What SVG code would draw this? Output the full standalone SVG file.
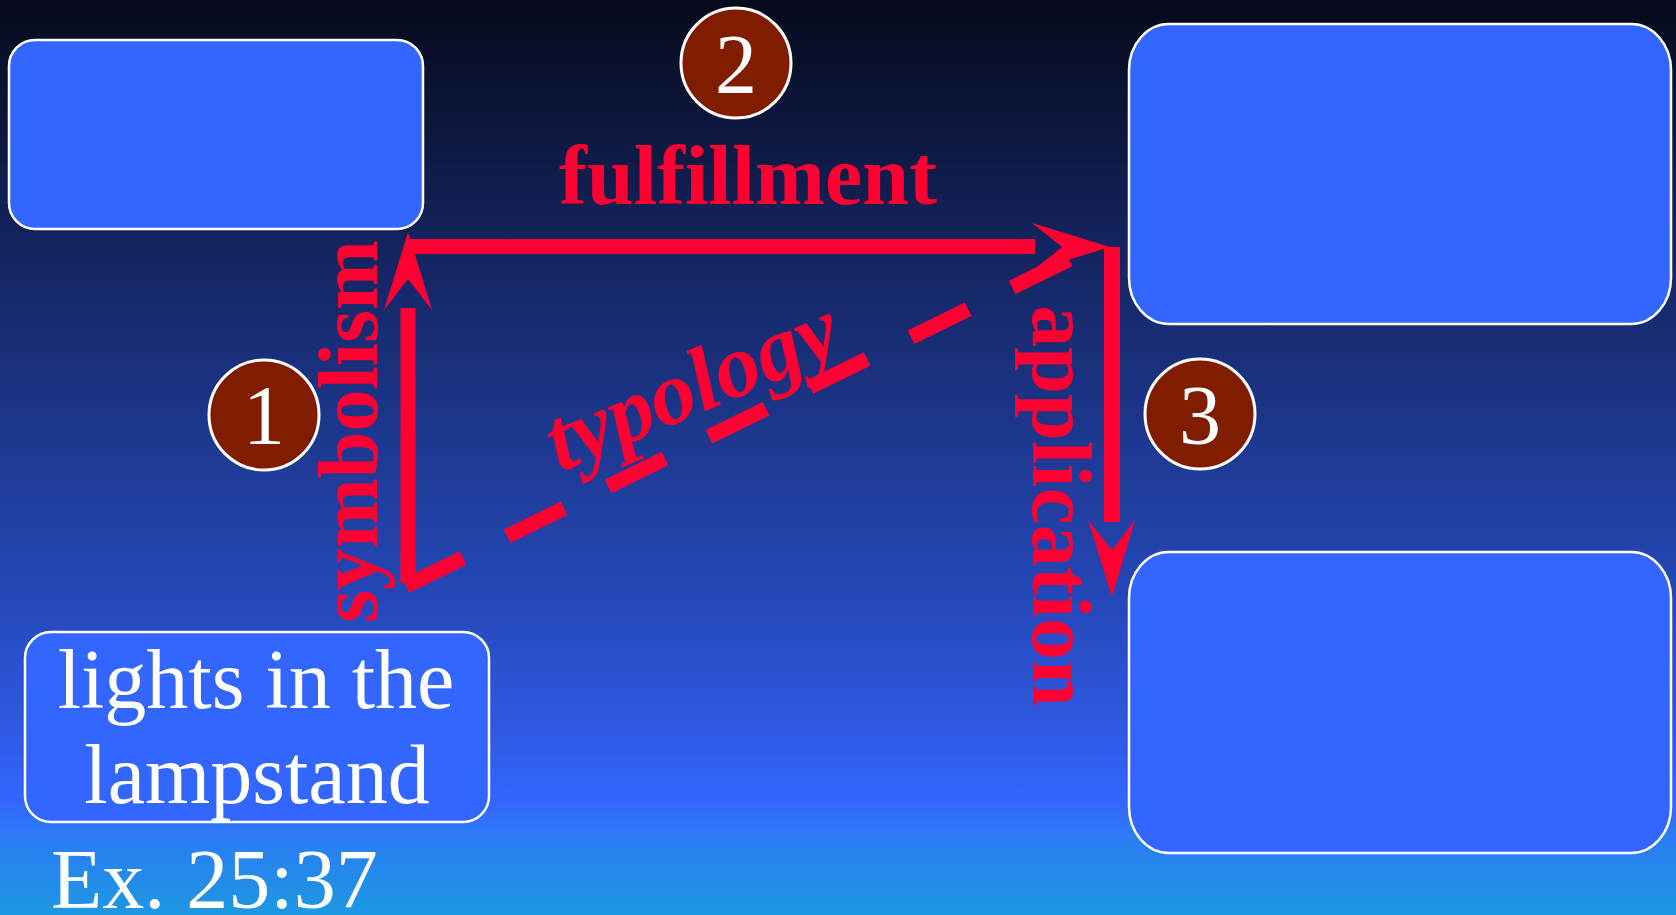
<svg xmlns="http://www.w3.org/2000/svg" width="1676" height="915" viewBox="0 0 1676 915">
<defs>
<linearGradient id="bg" x1="0" y1="0" x2="0" y2="1">
<stop offset="0" stop-color="#060a1a"/>
<stop offset="0.25" stop-color="#13225a"/>
<stop offset="0.45" stop-color="#1c3588"/>
<stop offset="0.65" stop-color="#2548b8"/>
<stop offset="0.79" stop-color="#2e58e0"/>
<stop offset="0.875" stop-color="#3366ff"/>
<stop offset="0.92" stop-color="#2a7ef2"/>
<stop offset="1" stop-color="#1c98e2"/>
</linearGradient>
<style>
.box{fill:#3366ff;stroke:#ffffff;stroke-width:2.5}
.num{fill:#801c00;stroke:#ffffff;stroke-width:3}
.numt{font-family:"Liberation Serif","Times New Roman",serif;font-size:84px;fill:#ffffff;text-anchor:middle}
.wt{font-family:"Liberation Serif","Times New Roman",serif;font-size:84px;fill:#ffffff}
.lbl{font-family:"Liberation Serif","Times New Roman",serif;font-size:84px;font-weight:bold;fill:#ff0033;text-anchor:middle}
.ln{stroke:#ff0033;stroke-width:15;fill:none}
.ah{fill:#ff0033}
</style>
</defs>
<rect width="1676" height="915" fill="url(#bg)"/>

<g id="box-topleft"><rect class="box" x="9" y="40" width="414" height="189" rx="26" ry="26"/></g>
<g id="box-topright"><rect class="box" x="1129" y="24" width="542" height="300" rx="40" ry="46"/></g>
<g id="box-bottomright"><rect class="box" x="1129" y="552" width="542" height="301" rx="40" ry="46"/></g>
<g id="box-lamp">
<rect class="box" x="25" y="632" width="464" height="190" rx="26" ry="26"/>
<text class="wt" x="256" y="708" text-anchor="middle">lights in the</text>
<text class="wt" x="257" y="803" text-anchor="middle">lampstand</text>
</g>
<g id="ref"><text class="wt" x="51" y="908">Ex. 25:37</text></g>

<g id="connectors">
<line class="ln" x1="408" y1="308" x2="408" y2="583"/>
<polygon class="ah" points="408,232 432,310 408,279 384,310"/>
<line class="ln" x1="409" y1="246.5" x2="1035" y2="246.5"/>
<polygon class="ah" points="1110,247 1032,271 1062,247 1032,223"/>
<line class="ln" x1="1112" y1="247" x2="1112" y2="522" style="stroke-width:16"/>
<polygon class="ah" points="1112,597 1088,520 1112,550 1135,520"/>
<line class="ln" x1="406" y1="586" x2="1069" y2="259.4" stroke-dasharray="63.5 49.1"/>
</g>

<g id="label-fulfillment"><text class="lbl" x="748" y="204">fulfillment</text></g>
<g id="label-symbolism"><text class="lbl" transform="translate(377,431.5) rotate(-90)">symbolism</text></g>
<g id="label-application"><text class="lbl" transform="translate(1033,506) rotate(90)">application</text></g>
<g id="label-typology"><text class="lbl" style="font-style:italic;font-size:90px" transform="translate(703,412) rotate(-23)">typology</text></g>

<g id="num1"><circle class="num" cx="264" cy="415" r="55"/><text class="numt" x="264" y="444">1</text></g>
<g id="num2"><circle class="num" cx="736" cy="63" r="55"/><text class="numt" x="736" y="93">2</text></g>
<g id="num3"><circle class="num" cx="1200" cy="414" r="55"/><text class="numt" x="1200" y="444">3</text></g>
</svg>
